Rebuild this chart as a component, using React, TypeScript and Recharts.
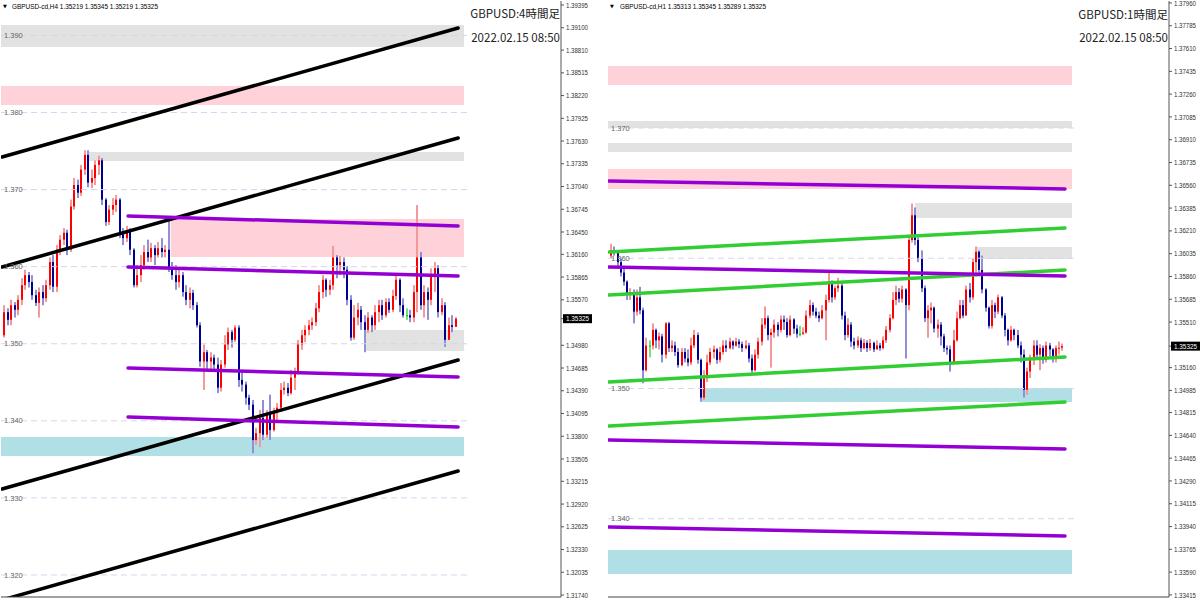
import React from 'react';
import { ComposedChart, Bar, XAxis, YAxis, ReferenceArea, ReferenceLine } from 'recharts';

const FONT = '"Liberation Sans", Arial, sans-serif';
const JP = '"Noto Sans CJK JP", "Noto Sans", sans-serif';

// ---- H4 (left) ----
const h4Open0 = 1.3511;
const h4Close = [
  1.3541, 1.3531, 1.355, 1.3544, 1.3557, 1.3576, 1.3589, 1.358, 1.3563, 1.3553,
  1.3567, 1.3559, 1.3576, 1.3606, 1.3574, 1.3622, 1.3635, 1.3644, 1.3622, 1.3678,
  1.3706, 1.3696, 1.3726, 1.3745, 1.3709, 1.3715, 1.3732, 1.3738, 1.3687, 1.3658,
  1.3674, 1.368, 1.3687, 1.3645, 1.3637, 1.3645, 1.3622, 1.3576, 1.3589, 1.3602,
  1.3619, 1.3612, 1.3624, 1.3615, 1.3624, 1.3619, 1.3622, 1.3598, 1.3589, 1.358,
  1.3589, 1.3567, 1.3557, 1.3566, 1.355, 1.3524, 1.3477, 1.3489, 1.3477, 1.3482,
  1.3473, 1.3443, 1.3473, 1.3499, 1.3515, 1.3505, 1.3521, 1.3453, 1.3447, 1.343,
  1.3421, 1.3375, 1.3384, 1.3404, 1.3382, 1.3408, 1.3388, 1.3412, 1.3417, 1.344,
  1.3443, 1.3436, 1.3456, 1.3464, 1.3499, 1.3511, 1.3518, 1.3524, 1.3528, 1.3546,
  1.3567, 1.3583, 1.357, 1.3576, 1.3612, 1.3602, 1.3606, 1.3596, 1.3557, 1.3508,
  1.3534, 1.3544, 1.3528, 1.3518, 1.3534, 1.3524, 1.3541, 1.355, 1.3537, 1.3554,
  1.3544, 1.3562, 1.3583, 1.355, 1.3537, 1.3537, 1.3534, 1.3567, 1.3612, 1.355,
  1.3567, 1.3557, 1.3589, 1.3598, 1.3541, 1.355, 1.3505, 1.3524, 1.35219, 1.35325,
];
const h4High = [
  1.355, 1.3546, 1.3557, 1.3554, 1.3563, 1.3585, 1.3596, 1.3593, 1.3589, 1.357,
  1.3573, 1.3576, 1.3583, 1.3612, 1.3615, 1.3628, 1.3641, 1.365, 1.3648, 1.3687,
  1.3715, 1.3713, 1.3732, 1.3751, 1.3751, 1.3726, 1.3738, 1.3744, 1.3741, 1.3689,
  1.368, 1.3689, 1.3693, 1.3689, 1.365, 1.3653, 1.365, 1.3624, 1.3602, 1.3615,
  1.3628, 1.3635, 1.3631, 1.3628, 1.3632, 1.3637, 1.3628, 1.3663, 1.3606, 1.3602,
  1.3596, 1.3593, 1.3576, 1.3573, 1.357, 1.3554, 1.3528, 1.3499, 1.3492, 1.3489,
  1.3486, 1.3482, 1.3479, 1.3511, 1.3521, 1.3518, 1.3524, 1.3524, 1.3464, 1.3451,
  1.3434, 1.3427, 1.3391, 1.3414, 1.3427, 1.3414, 1.3434, 1.3417, 1.3423, 1.3449,
  1.3451, 1.3449, 1.3466, 1.3469, 1.3505, 1.3518, 1.3524, 1.3531, 1.3534, 1.3553,
  1.3576, 1.3589, 1.3585, 1.3583, 1.3627, 1.3615, 1.3614, 1.3612, 1.3601, 1.3563,
  1.355, 1.3553, 1.3549, 1.3537, 1.3541, 1.3537, 1.355, 1.3557, 1.3557, 1.3559,
  1.3559, 1.357, 1.3589, 1.3585, 1.3559, 1.3546, 1.3544, 1.3576, 1.368, 1.3619,
  1.3576, 1.3573, 1.3598, 1.3606, 1.3602, 1.3559, 1.3554, 1.3534, 1.3537, 1.35345,
];
const h4Low = [
  1.3508, 1.3524, 1.3524, 1.3534, 1.3537, 1.355, 1.357, 1.3573, 1.3557, 1.3549,
  1.3534, 1.355, 1.3554, 1.357, 1.3567, 1.3567, 1.3615, 1.3628, 1.3615, 1.3619,
  1.3674, 1.3689, 1.3692, 1.3719, 1.3703, 1.3702, 1.3706, 1.3719, 1.368, 1.3653,
  1.3654, 1.3667, 1.3671, 1.3637, 1.3628, 1.3632, 1.3615, 1.3573, 1.3573, 1.358,
  1.3596, 1.3606, 1.3606, 1.3602, 1.3612, 1.3612, 1.3612, 1.3593, 1.3583, 1.357,
  1.3573, 1.3561, 1.355, 1.3546, 1.3544, 1.3521, 1.347, 1.344, 1.3466, 1.3464,
  1.3466, 1.3436, 1.3438, 1.3469, 1.3492, 1.3495, 1.3502, 1.3444, 1.3438, 1.3421,
  1.3414, 1.3358, 1.3369, 1.3366, 1.3375, 1.3378, 1.3375, 1.3386, 1.3401, 1.3412,
  1.3434, 1.3432, 1.3434, 1.344, 1.346, 1.3492, 1.3502, 1.3511, 1.3518, 1.3523,
  1.3541, 1.3559, 1.3561, 1.3563, 1.357, 1.3585, 1.3589, 1.3585, 1.355, 1.3504,
  1.3505, 1.3524, 1.3518, 1.3489, 1.3514, 1.3515, 1.3518, 1.3528, 1.3531, 1.3534,
  1.354, 1.3541, 1.3557, 1.3541, 1.3534, 1.3531, 1.3528, 1.3528, 1.3541, 1.3544,
  1.3534, 1.3531, 1.355, 1.3567, 1.3534, 1.3537, 1.3496, 1.3508, 1.3515, 1.35219,
];
const h4Ticks = [
  1.39395, 1.391, 1.3881, 1.38515, 1.3822, 1.37925, 1.3763, 1.37335, 1.3704, 1.36745,
  1.3645, 1.3616, 1.35865, 1.3557, 1.35325, 1.3498, 1.34685, 1.3439, 1.34095, 1.338,
  1.33505, 1.33215, 1.3292, 1.32625, 1.3233, 1.32035, 1.3174,
];
const h4MinorTicks = [1.385, 1.375, 1.365, 1.355, 1.345, 1.335, 1.325];
const h4Levels = [1.39, 1.38, 1.37, 1.36, 1.35, 1.34, 1.33, 1.32];
const h4Zones = [
  { from: -1, to: 131.3, hi: 1.39136, lo: 1.3885, kind: 'gray' },
  { from: -1, to: 131.3, hi: 1.38344, lo: 1.38098, kind: 'pink' },
  { from: 24, to: 131.3, hi: 1.37488, lo: 1.37371, kind: 'gray' },
  { from: 47.5, to: 131.3, hi: 1.36619, lo: 1.36125, kind: 'pink' },
  { from: 103, to: 131.3, hi: 1.35178, lo: 1.34906, kind: 'gray' },
  { from: -1, to: 131.3, hi: 1.3379, lo: 1.33543, kind: 'cyan' },
];
const h4Trends = [
  { x1: -0.7, p1: 1.37423, x2: 129.6, p2: 1.39097, kind: 'black' },
  { x1: -0.7, p1: 1.35996, x2: 129.6, p2: 1.37669, kind: 'black' },
  { x1: -0.7, p1: 1.33115, x2: 129.6, p2: 1.34789, kind: 'black' },
  { x1: -0.7, p1: 1.31675, x2: 129.6, p2: 1.33349, kind: 'black' },
  { x1: 35.3, p1: 1.36657, x2: 129.6, p2: 1.36528, kind: 'purple' },
  { x1: 35.3, p1: 1.35996, x2: 129.6, p2: 1.35879, kind: 'purple' },
  { x1: 35.3, p1: 1.34685, x2: 129.6, p2: 1.34569, kind: 'purple' },
  { x1: 35.3, p1: 1.34049, x2: 129.6, p2: 1.3392, kind: 'purple' },
];

// ---- H1 (right) ----
const h1Open0 = 1.3602;
const h1Close = [
  1.3606, 1.3605, 1.3597, 1.3589, 1.3582, 1.3572, 1.3574, 1.3559, 1.357, 1.356,
  1.3514, 1.3533, 1.3533, 1.3545, 1.3537, 1.354, 1.3526, 1.355, 1.3531, 1.3533,
  1.3528, 1.3518, 1.3528, 1.3523, 1.352, 1.3533, 1.3541, 1.3522, 1.3493, 1.3508,
  1.352, 1.3528, 1.353, 1.3522, 1.3528, 1.3533, 1.3531, 1.3536, 1.3533, 1.3536,
  1.3534, 1.3531, 1.3533, 1.3523, 1.3514, 1.3526, 1.3536, 1.3549, 1.3554, 1.3541,
  1.3543, 1.3549, 1.3545, 1.3553, 1.3551, 1.3541, 1.3553, 1.3546, 1.3542, 1.3542,
  1.3543, 1.3556, 1.3564, 1.3559, 1.3556, 1.3554, 1.356, 1.3568, 1.3581, 1.357,
  1.3577, 1.3579, 1.3556, 1.3541, 1.3549, 1.3536, 1.3533, 1.3537, 1.3531, 1.3535,
  1.3531, 1.3535, 1.353, 1.3533, 1.3531, 1.3537, 1.3545, 1.3554, 1.3568, 1.3574,
  1.3569, 1.3576, 1.3564, 1.3614, 1.3633, 1.3614, 1.36, 1.3577, 1.3554, 1.356,
  1.3562, 1.3546, 1.3549, 1.354, 1.3531, 1.353, 1.352, 1.3537, 1.3554, 1.3564,
  1.3556, 1.3576, 1.357, 1.3597, 1.3605, 1.3591, 1.3576, 1.3562, 1.3548, 1.3564,
  1.3559, 1.357, 1.3556, 1.3545, 1.3537, 1.3545, 1.3541, 1.3533, 1.3526, 1.3499,
  1.3513, 1.3522, 1.3533, 1.3526, 1.3531, 1.3522, 1.3533, 1.353, 1.3523, 1.3531,
  1.35313, 1.35325,
];
const h1High = [
  1.3611, 1.3609, 1.3606, 1.36, 1.3593, 1.3583, 1.3577, 1.3576, 1.3576, 1.3578,
  1.3562, 1.3539, 1.3537, 1.355, 1.3546, 1.3543, 1.3542, 1.3551, 1.3551, 1.3537,
  1.3536, 1.3531, 1.3531, 1.3531, 1.353, 1.3539, 1.3545, 1.3543, 1.3523, 1.3514,
  1.3526, 1.3531, 1.3533, 1.3531, 1.3532, 1.3537, 1.3537, 1.3539, 1.3537, 1.3539,
  1.3538, 1.3536, 1.3537, 1.3535, 1.3526, 1.353, 1.3539, 1.3554, 1.3563, 1.3556,
  1.3546, 1.3553, 1.3551, 1.3556, 1.3556, 1.3554, 1.3556, 1.3554, 1.3549, 1.3548,
  1.3547, 1.356, 1.3568, 1.3566, 1.3562, 1.3559, 1.3564, 1.3572, 1.3589, 1.3583,
  1.3579, 1.3585, 1.3581, 1.3559, 1.3554, 1.3551, 1.3539, 1.354, 1.3539, 1.3538,
  1.3537, 1.3538, 1.3536, 1.3537, 1.3535, 1.354, 1.3548, 1.3557, 1.3574, 1.3579,
  1.3577, 1.3579, 1.3577, 1.3618, 1.3642, 1.3639, 1.3616, 1.3606, 1.3579, 1.3564,
  1.3566, 1.3563, 1.3553, 1.3551, 1.3542, 1.3533, 1.3533, 1.3545, 1.3559, 1.3568,
  1.3568, 1.3579, 1.3581, 1.36, 1.3609, 1.3606, 1.3602, 1.3577, 1.3563, 1.3568,
  1.3566, 1.3572, 1.3571, 1.3558, 1.3546, 1.3548, 1.3546, 1.3545, 1.3536, 1.353,
  1.3516, 1.3526, 1.3537, 1.3537, 1.3534, 1.3533, 1.3536, 1.3535, 1.3531, 1.3533,
  1.3536, 1.35345,
];
const h1Low = [
  1.36, 1.3602, 1.3594, 1.3586, 1.3579, 1.3568, 1.3568, 1.355, 1.3556, 1.3557,
  1.3504, 1.3513, 1.3524, 1.353, 1.3531, 1.353, 1.352, 1.3523, 1.3528, 1.3528,
  1.3525, 1.3516, 1.3517, 1.352, 1.3517, 1.3518, 1.3531, 1.3519, 1.349, 1.3491,
  1.3505, 1.3518, 1.3523, 1.3519, 1.352, 1.3526, 1.3528, 1.353, 1.353, 1.3532,
  1.3531, 1.3528, 1.353, 1.352, 1.3512, 1.3513, 1.3523, 1.3533, 1.3546, 1.3537,
  1.3516, 1.3539, 1.354, 1.3543, 1.3545, 1.3539, 1.354, 1.3542, 1.3539, 1.354,
  1.3541, 1.3542, 1.3554, 1.3556, 1.3554, 1.3551, 1.3553, 1.3537, 1.3566, 1.3566,
  1.3568, 1.3574, 1.3553, 1.3537, 1.3539, 1.3532, 1.353, 1.3531, 1.3528, 1.353,
  1.3528, 1.3529, 1.3528, 1.353, 1.3529, 1.353, 1.3535, 1.3543, 1.3553, 1.3564,
  1.3566, 1.3566, 1.3523, 1.356, 1.3612, 1.361, 1.3597, 1.3574, 1.3551, 1.3539,
  1.355, 1.3543, 1.3539, 1.3533, 1.3528, 1.3526, 1.3513, 1.3519, 1.3536, 1.3553,
  1.3554, 1.3556, 1.3566, 1.3568, 1.3586, 1.3587, 1.3573, 1.3559, 1.3546, 1.3546,
  1.3554, 1.3557, 1.3554, 1.354, 1.3533, 1.3536, 1.3537, 1.3531, 1.352, 1.3493,
  1.3495, 1.3508, 1.3518, 1.3523, 1.3514, 1.3519, 1.352, 1.3525, 1.352, 1.352,
  1.3526, 1.35289,
];
const h1Ticks = [
  1.3796, 1.37785, 1.3761, 1.37435, 1.3726, 1.37085, 1.3691, 1.36735, 1.3656, 1.36385,
  1.3621, 1.36035, 1.3586, 1.35685, 1.3551, 1.35325, 1.3516, 1.34985, 1.34815, 1.3464,
  1.34465, 1.3429, 1.34115, 1.3394, 1.33765, 1.3359, 1.33415,
];
const h1MinorTicks = [
  1.335, 1.336, 1.337, 1.338, 1.339, 1.34, 1.341, 1.342, 1.343, 1.344, 1.345, 1.346,
  1.347, 1.348, 1.349, 1.35, 1.351, 1.352, 1.353, 1.354, 1.355, 1.356, 1.357, 1.358,
  1.359, 1.36, 1.361, 1.362, 1.363, 1.364, 1.365, 1.366, 1.367, 1.368, 1.369, 1.37,
  1.371, 1.372, 1.373, 1.374, 1.375, 1.376, 1.377, 1.378, 1.379,
];
const h1Levels = [1.37, 1.36, 1.35, 1.34];
const h1Zones = [
  { from: -1, to: 144, hi: 1.37476, lo: 1.3733, kind: 'pink' },
  { from: -1, to: 144, hi: 1.37054, lo: 1.37, kind: 'gray' },
  { from: -1, to: 144, hi: 1.36885, lo: 1.36816, kind: 'gray' },
  { from: -1, to: 144, hi: 1.36685, lo: 1.36532, kind: 'pink' },
  { from: 95, to: 144, hi: 1.36425, lo: 1.36309, kind: 'gray' },
  { from: 114.3, to: 144, hi: 1.36087, lo: 1.35994, kind: 'gray' },
  { from: 27.8, to: 144, hi: 1.35004, lo: 1.34896, kind: 'cyan' },
  { from: -1, to: 144, hi: 1.3376, lo: 1.33576, kind: 'cyan' },
];
const h1Trends = [
  { x1: -0.7, p1: 1.36048, x2: 141.8, p2: 1.36232, kind: 'green' },
  { x1: -0.7, p1: 1.35718, x2: 141.8, p2: 1.3591, kind: 'green' },
  { x1: -0.7, p1: 1.3505, x2: 141.8, p2: 1.35242, kind: 'green' },
  { x1: -0.7, p1: 1.34712, x2: 141.8, p2: 1.34896, kind: 'green' },
  { x1: -0.7, p1: 1.36593, x2: 141.8, p2: 1.36532, kind: 'purple' },
  { x1: -0.7, p1: 1.35933, x2: 141.8, p2: 1.35864, kind: 'purple' },
  { x1: -0.7, p1: 1.34605, x2: 141.8, p2: 1.34536, kind: 'purple' },
  { x1: -0.7, p1: 1.33937, x2: 141.8, p2: 1.33868, kind: 'purple' },
];

const ZONE_FILL: Record<string, string> = { gray: '#e2e2e2', pink: '#ffd1d9', cyan: '#b0e0e6' };
const TREND_STROKE: Record<string, string> = { black: '#000000', purple: '#9400d3', green: '#32cd32' };

function buildCandles(open0: number, close: number[], high: number[], low: number[]) {
  return close.map((c, i) => {
    const o = i === 0 ? open0 : close[i - 1];
    const h = Math.max(high[i], o, c);
    const l = Math.min(low[i], o, c);
    return { i, o, c, h, l, range: [l, h] };
  });
}

const h4Candles = buildCandles(h4Open0, h4Close, h4High, h4Low);
const h1Candles = buildCandles(h1Open0, h1Close, h1High, h1Low);

function Candle(props: any) {
  const { x, y, width, height, payload } = props;
  if (!payload || x == null || y == null) return null;
  const { o, c, h, l } = payload;
  const cx = Math.round(x + width / 2);
  const span = h - l || 1e-9;
  const toY = (p: number) => y + ((h - p) / span) * height;
  const doji = o === c;
  const up = c > o;
  const body = doji ? '#00c800' : up ? '#ff0000' : '#000090';
  const wick = doji ? '#7be07b' : up ? '#f29a9a' : '#9090d4';
  const top = toY(Math.max(o, c));
  const bot = toY(Math.min(o, c));
  return (
    <g>
      <rect x={cx - 1} y={y} width={2} height={Math.max(1, height)} fill={wick} />
      <rect x={cx - 1} y={top} width={2} height={Math.max(1, bot - top)} fill={body} />
    </g>
  );
}

function PriceTick(props: any) {
  const { x, y, payload, current } = props;
  const v = payload.value as number;
  const label = v.toFixed(5);
  if (Math.abs(v - current) < 1e-7) {
    return (
      <g>
        <rect x={x - 3} y={y - 4.5} width={29} height={9} fill="#000" />
        <text x={x} y={y + 2.6} fill="#fff" fontSize={7} fontFamily={FONT} textLength={23} lengthAdjust="spacingAndGlyphs">
          {label}
        </text>
      </g>
    );
  }
  return (
    <text x={x} y={y + 2.6} fill="#333" fontSize={7} fontFamily={FONT} textLength={22} lengthAdjust="spacingAndGlyphs">
      {label}
    </text>
  );
}

interface PanelProps {
  width: number;
  marginLeft: number;
  axisWidth: number;
  xDomain: [number, number];
  yDomain: [number, number];
  candles: any[];
  ticks: number[];
  minorTicks: number[];
  current: number;
  levels: number[];
  levelEnd: number;
  zones: typeof h4Zones;
  trends: typeof h4Trends;
}

function Panel(p: PanelProps) {
  return (
    <ComposedChart
      width={p.width}
      height={600}
      data={p.candles}
      margin={{ top: 1, right: 0, bottom: 0, left: p.marginLeft }}
    >
      <XAxis dataKey="i" type="number" domain={p.xDomain} allowDataOverflow height={3} tick={false} tickLine={false} axisLine={{ stroke: '#444' }} />
      <XAxis xAxisId="top" orientation="top" type="number" domain={p.xDomain} allowDataOverflow height={0} tick={false} tickLine={false} axisLine={{ stroke: '#b4b4b4' }} />
      <YAxis
        yAxisId="m"
        orientation="left"
        mirror
        width={0}
        type="number"
        domain={p.yDomain}
        allowDataOverflow
        ticks={p.minorTicks}
        interval={0}
        tick={() => <g />}
        tickSize={3}
        tickLine={{ stroke: '#555' }}
        axisLine={{ stroke: '#777' }}
      />
      <YAxis
        yAxisId="p"
        orientation="right"
        width={p.axisWidth}
        type="number"
        domain={p.yDomain}
        allowDataOverflow
        ticks={p.ticks}
        interval={0}
        tickSize={3}
        tickMargin={2}
        tickLine={{ stroke: '#555' }}
        axisLine={{ stroke: '#555' }}
        tick={(t: any) => <PriceTick {...t} current={p.current} />}
      />
      {p.zones.map((z, k) => (
        <ReferenceArea
          key={`z${k}`}
          yAxisId="p"
          x1={z.from}
          x2={z.to}
          y1={z.lo}
          y2={z.hi}
          fill={ZONE_FILL[z.kind]}
          fillOpacity={1}
          stroke="none"
          ifOverflow="hidden"
        />
      ))}
      {p.levels.map((lv) => (
        <ReferenceLine
          key={`l${lv}`}
          yAxisId="p"
          segment={[{ x: p.xDomain[0], y: lv }, { x: p.levelEnd, y: lv }]}
          stroke="#d6d6ec"
          strokeDasharray="6 4"
          ifOverflow="hidden"
          label={{ value: lv.toFixed(3), position: 'insideLeft', offset: 3, fill: '#666', fontSize: 7.5, fontFamily: FONT }}
        />
      ))}
      <Bar yAxisId="p" dataKey="range" barSize={3} isAnimationActive={false} shape={(b: any) => <Candle {...b} />} />
      {p.trends.map((t, k) => (
        <ReferenceLine
          key={`t${k}`}
          yAxisId="p"
          segment={[{ x: t.x1, y: t.p1 }, { x: t.x2, y: t.p2 }]}
          stroke={TREND_STROKE[t.kind]}
          strokeWidth={t.kind === 'black' ? 3.5 : 3.5}
          strokeLinecap="round"
          ifOverflow="hidden"
        />
      ))}
    </ComposedChart>
  );
}

const fmt = (v: number) => v.toFixed(5);

export default function App() {
  const l4 = h4Candles[h4Candles.length - 1];
  const l1 = h1Candles[h1Candles.length - 1];
  return (
    <div style={{ position: 'absolute', left: 0, top: 0, width: 1200, height: 600, background: '#fff', overflow: 'hidden' }}>
      <div style={{ position: 'absolute', left: 0, top: 0 }}>
        <Panel
          width={600}
          marginLeft={1}
          axisWidth={39}
          xDomain={[-1, 159]}
          yDomain={[1.31714, 1.39447]}
          candles={h4Candles}
          ticks={h4Ticks}
          minorTicks={h4MinorTicks}
          current={1.35325}
          levels={h4Levels}
          levelEnd={133}
          zones={h4Zones}
          trends={h4Trends}
        />
      </div>
      <div style={{ position: 'absolute', left: 606, top: 0 }}>
        <Panel
          width={594}
          marginLeft={2}
          axisWidth={31}
          xDomain={[-1, 174.3]}
          yDomain={[1.33399, 1.37975]}
          candles={h1Candles}
          ticks={h1Ticks}
          minorTicks={h1MinorTicks}
          current={1.35325}
          levels={h1Levels}
          levelEnd={145.6}
          zones={h1Zones}
          trends={h1Trends}
        />
      </div>
      <svg width={1200} height={600} style={{ position: 'absolute', left: 0, top: 0, pointerEvents: 'none' }}>
        <text x={3} y={8} fontSize={5} fill="#000" fontFamily="DejaVu Sans">▼</text>
        <text x={12} y={9} fontSize={7} fill="#000" fontFamily={FONT} textLength={146} lengthAdjust="spacingAndGlyphs">
          {`GBPUSD-cd,H4 ${fmt(l4.o)} ${fmt(l4.h)} ${fmt(l4.l)} ${fmt(l4.c)}`}
        </text>
        <text x={560} y={18} textAnchor="end" fontSize={11.5} fill="#222" fontFamily={JP}>GBPUSD:4時間足</text>
        <text x={560} y={41.5} textAnchor="end" fontSize={11.5} fill="#222" fontFamily={JP}>2022.02.15 08:50</text>

        <text x={610} y={8} fontSize={5} fill="#000" fontFamily="DejaVu Sans">▼</text>
        <text x={620} y={9} fontSize={7} fill="#000" fontFamily={FONT} textLength={146} lengthAdjust="spacingAndGlyphs">
          {`GBPUSD-cd,H1 ${fmt(l1.o)} ${fmt(l1.h)} ${fmt(l1.l)} ${fmt(l1.c)}`}
        </text>
        <text x={1168} y={18.5} textAnchor="end" fontSize={11.5} fill="#222" fontFamily={JP}>GBPUSD:1時間足</text>
        <text x={1168} y={41.5} textAnchor="end" fontSize={11.5} fill="#222" fontFamily={JP}>2022.02.15 08:50</text>
      </svg>
    </div>
  );
}
